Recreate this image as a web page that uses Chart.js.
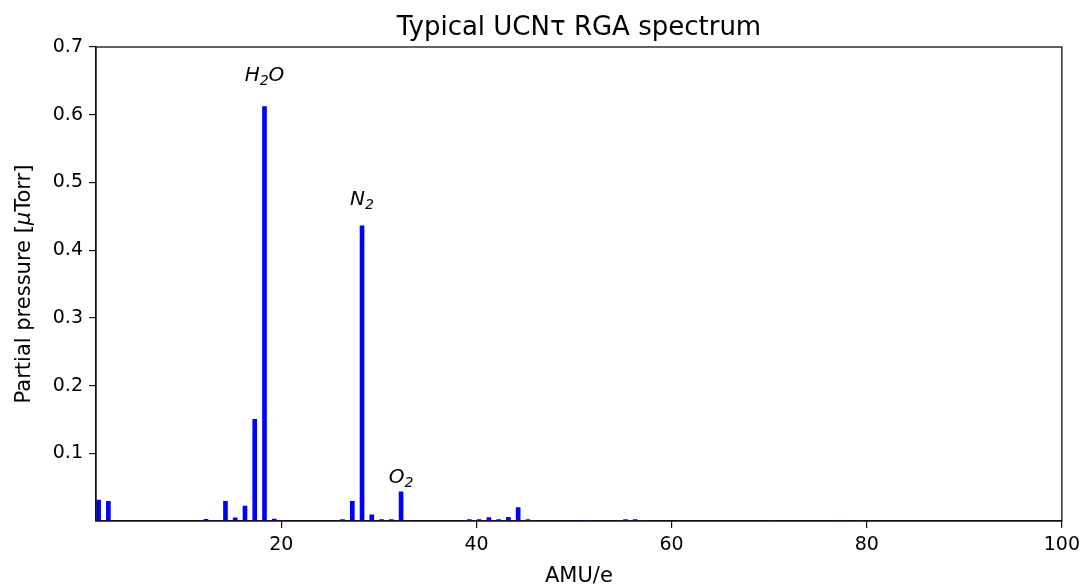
<!DOCTYPE html>
<html>
<head>
<meta charset="utf-8">
<title>Typical UCNτ RGA spectrum</title>
<script src="https://cdn.jsdelivr.net/npm/chart.js@4"></script>
<style>
  html, body { margin: 0; padding: 0; background: #fff; }
  #wrap { width: 1086px; height: 587px; }
</style>
</head>
<body>
<div id="wrap"><canvas id="rga"></canvas></div>
<script>
// mass numbers and measured partial pressures (µTorr)
const amu = [1, 2, 12, 13, 14, 15, 16, 17, 18, 19, 20, 26, 27, 28, 29, 30, 31, 32,
  39, 40, 41, 42, 43, 44, 45, 51, 55, 56, 57, 70, 77, 79];
const pressure = [0.031, 0.029, 0.0025, 0.001, 0.029, 0.0045, 0.022, 0.150, 0.612, 0.003, 0.001,
  0.002, 0.029, 0.436, 0.009, 0.002, 0.002, 0.043,
  0.002, 0.002, 0.005, 0.002, 0.0055, 0.020, 0.002, 0.0005, 0.002, 0.002, 0.0005,
  0.0005, 0.0005, 0.0005];

const xTicks = [20, 40, 60, 80, 100];
const yTicks = [0.1, 0.2, 0.3, 0.4, 0.5, 0.6, 0.7];

// peak labels: species (base, subscript, rest), mass number, label height in µTorr
const peakNames = [["H", "2", "O"], ["N", "2", ""], ["O", "2", ""]];
const peakAmu = [18, 28, 32];
const peakLabelY = [0.650, 0.4665, 0.0557];

const EDGE = 0.27; // bars sit just right of each mass number
const FONT = "'DejaVu Sans', sans-serif";

const decorations = {
  id: "decorations",
  afterDraw(chart) {
    const { ctx, chartArea: a, scales } = chart;
    ctx.save();
    // frame top and right
    ctx.strokeStyle = "#111";
    ctx.lineWidth = 1.3;
    ctx.strokeRect(a.left, a.top, a.right - a.left, a.bottom - a.top);

    ctx.fillStyle = "#000";
    ctx.textAlign = "center";
    ctx.textBaseline = "alphabetic";
    ctx.font = "26px " + FONT;
    ctx.fillText("Typical UCNτ RGA spectrum", (a.left + a.right) / 2, 35);

    ctx.font = "21px " + FONT;
    ctx.fillText("AMU/e", (a.left + a.right) / 2, 582);

    // y axis title with italic mu
    ctx.save();
    ctx.translate(30, (a.top + a.bottom) / 2);
    ctx.rotate(-Math.PI / 2);
    const parts = [["Partial pressure [", ""], ["μ", "italic "], ["Torr]", ""]];
    let total = 0;
    parts.forEach(p => { ctx.font = p[1] + "21px " + FONT; total += ctx.measureText(p[0]).width; });
    let x = -total / 2;
    ctx.textAlign = "left";
    parts.forEach(p => {
      ctx.font = p[1] + "21px " + FONT;
      ctx.fillText(p[0], x, 0);
      x += ctx.measureText(p[0]).width;
    });
    ctx.restore();

    // peak labels
    peakNames.forEach((n, i) => {
      const px = scales.x.getPixelForValue(peakAmu[i] + EDGE);
      const py = scales.y.getPixelForValue(peakLabelY[i]);
      const big = "italic 20px " + FONT, small = "italic 14px " + FONT;
      ctx.font = big; const w0 = ctx.measureText(n[0]).width, w2 = ctx.measureText(n[2]).width;
      ctx.font = small; const w1 = ctx.measureText(n[1]).width;
      let sx = px - (w0 + w1 + w2) / 2;
      ctx.textAlign = "left";
      ctx.font = big; ctx.fillText(n[0], sx, py); sx += w0;
      ctx.font = small; ctx.fillText(n[1], sx, py + 4); sx += w1;
      ctx.font = big; ctx.fillText(n[2], sx, py);
    });
    ctx.restore();
  }
};

new Chart(document.getElementById("rga"), {
  type: "bar",
  data: {
    datasets: [{
      data: amu.map((m, i) => ({ x: m + EDGE, y: pressure[i] })),
      backgroundColor: "#0000ff",
      borderWidth: 0,
      barThickness: 4
    }]
  },
  options: {
    responsive: true,
    maintainAspectRatio: false,
    animation: false,
    layout: { padding: { left: 0, right: 24, top: 47, bottom: 0 } },
    plugins: { legend: { display: false }, tooltip: { enabled: false }, title: { display: false } },
    scales: {
      x: {
        type: "linear",
        min: 1,
        max: 100,
        offset: false,
        afterBuildTicks: s => { s.ticks = xTicks.map(v => ({ value: v })); },
        afterFit: s => { s.height = 66; },
        ticks: { color: "#000", font: { family: FONT, size: 19 }, padding: 6, maxRotation: 0,
          callback: v => String(v) },
        grid: { offset: false, drawOnChartArea: false, drawTicks: true, tickLength: 7, color: "#111", lineWidth: 1.2 },
        border: { color: "#111", width: 1.3 }
      },
      y: {
        min: 0,
        max: 0.7,
        afterBuildTicks: s => { s.ticks = yTicks.map(v => ({ value: v })); },
        afterFit: s => { s.width = 96; },
        ticks: { color: "#000", font: { family: FONT, size: 19 }, padding: 6,
          callback: v => v.toFixed(1) },
        grid: { drawOnChartArea: false, drawTicks: true, tickLength: 7, color: "#111", lineWidth: 1.2 },
        border: { color: "#111", width: 1.3 }
      }
    }
  },
  plugins: [decorations]
});
</script>
</body>
</html>
